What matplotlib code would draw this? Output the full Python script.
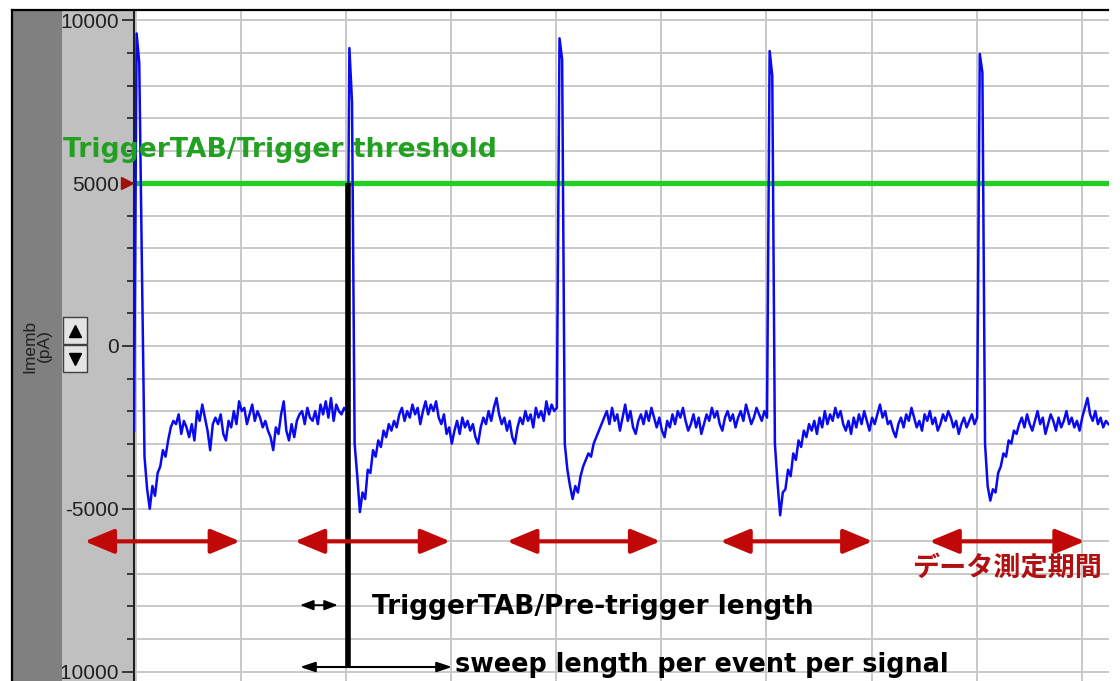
import numpy as np
import matplotlib
matplotlib.use("Agg")
import matplotlib.pyplot as plt
from matplotlib.patches import Rectangle
from matplotlib.lines import Line2D

# ---------------- data ----------------
sample_start = -0.02      # grid divisions
sample_step = 0.025

imemb_p1 = [-2600, 9600, 8700, 2500, -3400, -4400, -5000, -4300, -4600, -3900,
            -3700, -3200, -3400, -2900, -2500, -2300,
            -2400, -2100, -2700, -2300, -2500, -2800, -2400, -2900,
            -2000, -2300, -1800, -2200, -2600, -3200, -2400, -2200,
            -2400, -2100, -2700, -2900, -2300, -2500, -2000, -2400,
            -1700, -2000, -1900, -2400, -2100, -1800, -2300, -2000,
            -2200, -2500, -2300, -2600, -2800, -3200, -2500, -2700,
            -2100, -1700, -2600, -2900, -2400, -2800, -2300, -2100,
            -2000, -2400, -1900, -2200, -2300, -2000, -2400,
            -1800, -2100, -1700, -2200, -1600, -2300, -1800, -2000,
            -2100, -1900, -2000]
imemb_p2 = [9150, 7500, -3000, -4000, -5100, -4500, -4700, -3800, -3900, -3200,
            -3400, -2900, -3100, -2600, -2800, -2400, -2600, -2300, -2500,
            -2100, -1900, -2300, -2000, -2200, -1800, -2100, -1900,
            -2400, -2000, -1700, -2100, -1800, -2000, -1700, -2200,
            -2400, -2100, -2700, -2500, -3000, -2600, -2300, -2700,
            -2200, -2500, -2300, -2600, -2400, -2800, -3000, -2500,
            -2200, -2400, -2000, -2300, -1900, -1600, -2100, -2400,
            -2200, -2600, -2300, -2800, -3000, -2500, -2200, -2400,
            -2000, -2300, -2100, -2500, -1900, -2200, -2000, -2300,
            -1700, -2100, -1800, -2000, -1900]
imemb_p3 = [9450, 8800, -3000, -3800, -4300, -4700, -4300, -4500, -4000, -3700,
            -3500, -3300, -3400, -3000, -2800, -2600, -2400,
            -2200, -2000, -2400, -1900, -2300, -2100, -2600, -2200,
            -1800, -2300, -2000, -2500, -2700, -2300, -2100, -2400,
            -2000, -2300, -1900, -2200, -2500, -2200, -2600, -2800,
            -2300, -2500, -2100, -2400, -2000, -2200, -1900, -2300,
            -2600, -2400, -2100, -2500, -2200, -2700, -2400, -2100,
            -2300, -1900, -2200, -2000, -2400, -2600, -2200, -2000,
            -2300, -2100, -2500, -2200, -2000, -2300, -1800, -2100,
            -2400, -2200, -1900, -2100, -2300, -2000, -2200]
imemb_p4 = [9060, 8300, -3000, -4200, -5200, -4500, -4400, -3800, -4000, -3300,
            -3500, -2900, -3100, -2600, -2800, -2400,
            -2600, -2300, -2700, -2200, -2500, -2000, -2400, -2100,
            -2300, -1900, -2200, -2000, -2400, -2600, -2300, -2700,
            -2200, -2500, -2100, -2400, -2000, -2300, -2600, -2200,
            -2400, -2100, -1800, -2200, -2000, -2400, -2300, -2600,
            -2800, -2400, -2200, -2500, -2100, -2300, -1900, -2200,
            -2500, -2300, -2600, -2100, -2300, -2000, -2400, -2200,
            -2600, -2400, -2100, -2300, -2000, -2200, -2500, -2300,
            -2700, -2400, -2200, -2500, -2300, -2100, -2400, -2200]
imemb_p5 = [8970, 8400, -3000, -4300, -4750, -4400, -4500, -3900, -3700, -3300,
            -3400, -2900, -3000, -2600, -2700, -2400,
            -2200, -2500, -2100, -2400, -2600, -2300, -2000, -2400,
            -2200, -2700, -2400, -2100, -2300, -2600, -2200, -2500,
            -2300, -2000, -2400, -2200, -2500, -2300, -2600, -2200,
            -1900, -1600, -2100, -2300, -2000, -2400, -2200, -2500,
            -2300, -2400]

threshold_pA = 5000
trigger_time = 2.017
sweep_bottom_pA = -9860
period_start = [-0.49, 1.51, 3.53, 5.56, 7.55]
period_end = [0.99, 2.99, 4.99, 7.01, 9.03]
period_level_pA = -6000
pretrigger_span = [1.56, 1.92]
pretrigger_level_pA = -7960
sweep_span = [1.56, 3.007]

ytick_values = [10000, 5000, 0, -5000, -10000]
ytick_labels = ["10000", "5000", "0", "-5000", "-10000"]

imemb = np.array(imemb_p1 + imemb_p2 + imemb_p3 + imemb_p4 + imemb_p5, dtype=float)
t = sample_start + sample_step * np.arange(len(imemb))

# ---------------- figure ----------------
W, H = 1120, 681
fig = plt.figure(figsize=(W / 100, H / 100), dpi=100)
fig.patch.set_facecolor("white")


def fx(px):
    return px / W


def fy(py):
    return 1 - py / H


# left panels
fig.patches.append(Rectangle((fx(12), 0), fx(134) - fx(12), fy(10), transform=fig.transFigure,
                             facecolor="#c0c0c0", edgecolor="none", zorder=-5))
fig.patches.append(Rectangle((fx(13), 0), fx(62) - fx(13), fy(10), transform=fig.transFigure,
                             facecolor="#808080", edgecolor="none", zorder=2))

ax = fig.add_axes([fx(134), 0, fx(1109) - fx(134), fy(10)])
ax.set_facecolor("white")
ax.set_xlim(-0.02, 9.26)
ax.set_ylim(-10290, 10320)

for s in ["top", "right", "bottom"]:
    ax.spines[s].set_visible(False)
ax.spines["left"].set_color("#202020")
ax.spines["left"].set_linewidth(1.5)

ax.set_yticks(ytick_values)
ax.set_yticklabels(ytick_labels)
ax.set_yticks(np.arange(-10000, 10001, 1000), minor=True)
ax.set_xticks(np.arange(0, 10, 1))
ax.tick_params(axis="x", length=0, labelbottom=False)
ax.tick_params(axis="y", which="major", length=9, width=1.2, pad=2, labelsize=15,
               colors="#202020")
ax.tick_params(axis="y", which="minor", length=5, width=1.2, colors="#202020")
for lbl in ax.get_yticklabels():
    lbl.set_fontfamily("Liberation Sans")
ax.grid(True, which="both", axis="y", color="#c8c8c8", lw=1.4)
ax.grid(True, which="major", axis="x", color="#c8c8c8", lw=1.4)
ax.set_axisbelow(True)

# threshold line
ax.axhline(threshold_pA, color="#22d022", lw=3.8, zorder=2)
ax.plot([-0.085], [threshold_pA], marker=">", color="#a01010", markersize=8,
        clip_on=False, zorder=6)

# trace
ax.plot(t, imemb, color="#0a0af0", lw=1.8, zorder=3)

# trigger vertical line
ax.plot([trigger_time, trigger_time], [threshold_pA, sweep_bottom_pA], color="black",
        lw=4, zorder=4, solid_capstyle="butt")

# red period arrows
red = "#c00808"
for a, b in zip(period_start, period_end):
    ax.annotate("", xy=(b, period_level_pA), xytext=(a, period_level_pA),
                arrowprops=dict(arrowstyle="<|-|>,head_length=1.8,head_width=0.75",
                                color=red, lw=3, shrinkA=0, shrinkB=0, mutation_scale=10),
                annotation_clip=False, zorder=5)

# black arrows
ax.annotate("", xy=(pretrigger_span[1], pretrigger_level_pA),
            xytext=(pretrigger_span[0], pretrigger_level_pA),
            arrowprops=dict(arrowstyle="<|-|>,head_length=0.8,head_width=0.3",
                            color="black", lw=1.3, shrinkA=0, shrinkB=0, mutation_scale=10),
            annotation_clip=False, zorder=5)
ax.annotate("", xy=(sweep_span[1], sweep_bottom_pA), xytext=(sweep_span[0], sweep_bottom_pA),
            arrowprops=dict(arrowstyle="<|-|>,head_length=0.9,head_width=0.3",
                            color="black", lw=1.5, shrinkA=0, shrinkB=0, mutation_scale=10),
            annotation_clip=False, zorder=5)

# texts
ax.text(-0.695, 5806, "TriggerTAB/Trigger threshold", color="#22a022", fontsize=19.2,
        fontweight="bold", family="DejaVu Sans", ha="left", va="baseline", zorder=7)
ax.text(2.245, -8230, "TriggerTAB/Pre-trigger length", color="black", fontsize=19,
        fontweight="bold", family="DejaVu Sans", ha="left", va="baseline", zorder=7)
ax.text(3.035, -10015, "sweep length per event per signal", color="black", fontsize=18.4,
        fontweight="bold", family="DejaVu Sans", ha="left", va="baseline", zorder=7)
ax.text(7.383, -6820, "データ測定期間", color="#b01010", fontsize=19.5, fontweight="bold",
        family=["Noto Sans CJK JP", "DejaVu Sans"], ha="left", va="center", zorder=7)

# y label
fig.text(fx(37), fy(346), "Imemb\n(pA)", rotation=90, ha="center", va="center", fontsize=12.5,
         family="Liberation Sans", color="#202020", linespacing=1.0, zorder=5)

# up/down buttons
for (y0, y1, mk) in [(317, 344, "^"), (345, 372, "v")]:
    fig.patches.append(Rectangle((fx(63), fy(y1)), fx(87) - fx(63), fy(y0) - fy(y1),
                                 transform=fig.transFigure, facecolor="#e4e4e4",
                                 edgecolor="#404040", lw=1.0, zorder=3))
    fig.lines.append(Line2D([fx(75)], [fy((y0 + y1) / 2)], marker=mk, color="black",
                            markersize=9, transform=fig.transFigure, zorder=4))

# window borders
fig.lines.append(Line2D([fx(12), fx(1108)], [fy(10), fy(10)], transform=fig.transFigure,
                        color="black", lw=1.6, zorder=6))
fig.lines.append(Line2D([fx(12), fx(12)], [fy(10), 0], transform=fig.transFigure,
                        color="black", lw=1.6, zorder=6))

fig.savefig("out.png", dpi=100)
